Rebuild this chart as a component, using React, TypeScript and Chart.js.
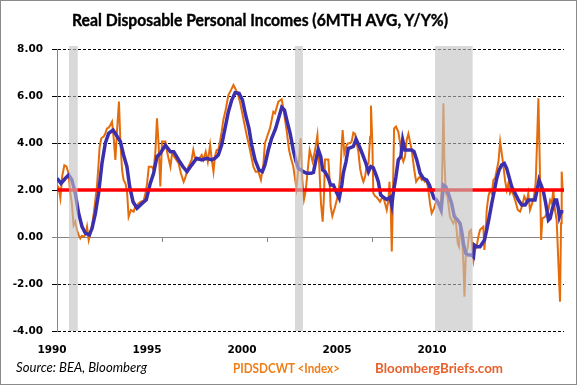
import React, { useEffect, useLayoutEffect, useRef } from "react";
import { Chart, registerables } from "chart.js";

Chart.register(...registerables);

// ---------- data ----------
const orangeSeries: [number, number][] = [
  [1990.00, 2.2],[1990.08, 2.1],[1990.16, 1.65],[1990.25, 2.6],[1990.35, 3.05],[1990.45, 3.0],[1990.55, 2.7],[1990.63, 1.9],[1990.71, 1.4],[1990.79, 0.5],[1990.87, 0.65],[1990.95, 0.3],
  [1991.03, 0.09],[1991.11, -0.06],[1991.19, 0.05],[1991.27, 0.01],[1991.35, 0.1],[1991.43, 0.44],[1991.51, -0.13],[1991.59, 0.16],[1991.67, 0.5],[1991.75, 1.01],[1991.83, 1.6],[1991.90, 2.14],[1991.97, 3.0],
  [1992.03, 3.84],[1992.11, 4.2],[1992.22, 4.27],[1992.30, 4.4],[1992.38, 4.62],[1992.46, 4.65],[1992.54, 4.77],[1992.62, 4.91],[1992.70, 4.2],[1992.78, 3.28],[1992.86, 4.55],[1992.95, 5.76],
  [1993.02, 3.99],[1993.10, 2.85],[1993.17, 2.43],[1993.25, 2.3],[1993.33, 2.0],[1993.41, 0.86],[1993.52, 1.15],[1993.65, 1.08],[1993.73, 1.3],[1993.81, 1.36],[1993.97, 1.5],
  [1994.13, 1.55],[1994.21, 1.86],[1994.29, 2.28],[1994.37, 2.99],[1994.52, 2.99],[1994.60, 2.85],[1994.68, 3.56],[1994.76, 5.05],[1994.84, 3.9],[1994.92, 2.15],
  [1995.00, 4.06],[1995.16, 4.06],[1995.24, 3.63],[1995.40, 2.99],[1995.48, 3.56],[1995.63, 3.35],[1995.79, 3.13],[1995.90, 2.71],
  [1996.03, 2.35],[1996.10, 2.5],[1996.25, 2.99],[1996.41, 3.28],[1996.49, 3.70],[1996.57, 3.35],[1996.73, 3.28],[1996.89, 3.49],[1996.97, 3.28],
  [1997.08, 3.63],[1997.18, 3.2],[1997.29, 3.91],[1997.37, 3.28],[1997.45, 2.78],[1997.52, 3.42],[1997.60, 3.70],[1997.68, 3.70],[1997.76, 4.06],[1997.84, 4.48],[1997.92, 4.98],
  [1998.03, 5.4],[1998.16, 6.04],[1998.29, 6.26],[1998.40, 6.47],[1998.48, 6.33],[1998.60, 6.11],[1998.71, 5.76],[1998.87, 5.05],
  [1999.03, 4.34],[1999.19, 3.70],[1999.35, 2.99],[1999.46, 2.78],[1999.59, 2.78],[1999.71, 2.43],[1999.83, 3.13],[1999.90, 3.99],
  [2000.03, 4.34],[2000.14, 4.62],[2000.30, 5.33],[2000.38, 5.26],[2000.54, 5.76],[2000.70, 5.86],[2000.78, 5.47],[2000.94, 4.48],
  [2001.05, 3.70],[2001.14, 3.35],[2001.25, 3.0],[2001.40, 2.07],[2001.50, 3.0],[2001.60, 4.2],[2001.68, 2.43],[2001.76, 1.6],[2001.84, 1.95],[2001.94, 2.85],
  [2002.03, 3.70],[2002.17, 3.21],[2002.29, 3.70],[2002.40, 4.34],[2002.49, 2.99],[2002.57, 1.43],[2002.65, 0.65],[2002.71, 1.72],[2002.76, 3.3],[2002.92, 3.3],[2002.97, 2.57],
  [2003.03, 1.29],[2003.11, 0.89],[2003.24, 1.29],[2003.40, 1.86],[2003.48, 2.57],[2003.56, 3.99],[2003.60, 4.55],[2003.68, 3.56],[2003.79, 3.91],[2003.87, 3.99],[2003.95, 3.99],
  [2004.03, 4.06],[2004.11, 4.44],[2004.19, 4.39],[2004.27, 3.99],[2004.35, 3.63],[2004.43, 2.92],[2004.51, 2.57],[2004.59, 2.35],[2004.67, 2.57],[2004.75, 3.06],[2004.83, 3.13],[2004.91, 4.27],[2004.95, 5.59],
  [2005.02, 3.85],[2005.06, 1.86],[2005.14, 1.74],[2005.22, 1.69],[2005.30, 1.6],[2005.38, 1.5],[2005.46, 1.64],[2005.54, 1.69],[2005.62, 1.43],[2005.70, 1.15],[2005.78, 1.57],[2005.83, 2.35],[2005.89, 1.29],[2005.94, -0.62],[2005.98, 1.01],
  [2006.05, 4.62],[2006.14, 4.7],[2006.25, 4.48],[2006.33, 4.05],[2006.41, 3.42],[2006.49, 3.21],[2006.57, 3.42],[2006.65, 4.13],[2006.73, 4.39],[2006.81, 4.04],[2006.89, 3.70],
  [2007.00, 2.92],[2007.10, 2.35],[2007.21, 2.5],[2007.29, 2.57],[2007.37, 2.42],[2007.44, 2.45],[2007.52, 2.35],[2007.60, 2.42],[2007.68, 2.0],[2007.76, 1.43],[2007.84, 1.01],[2007.95, 1.22],
  [2008.00, 1.36],[2008.08, 1.57],[2008.16, 1.5],[2008.24, 1.22],[2008.32, 2.0],[2008.37, 4.13],[2008.40, 5.69],[2008.44, 3.42],[2008.51, 1.86],[2008.59, 1.72],[2008.63, 1.43],[2008.71, 0.86],[2008.79, 0.72],[2008.87, 0.58],[2008.98, 0.79],
  [2009.08, -0.27],[2009.14, -0.41],[2009.19, 0.3],[2009.27, 0.23],[2009.35, -1.12],[2009.40, -2.54],[2009.46, -0.84],[2009.56, -0.41],[2009.63, 0.23],[2009.71, 0.3],[2009.78, -0.55],[2009.83, -0.98],[2009.90, -0.55],[2009.98, -0.41],
  [2010.06, 0.01],[2010.14, 0.3],[2010.22, 0.37],[2010.30, 0.44],[2010.35, -0.55],[2010.41, 0.16],[2010.46, 1.15],[2010.54, 1.72],[2010.62, 2.0],[2010.70, 1.86],[2010.78, 2.43],[2010.86, 2.5],[2010.94, 2.85],
  [2011.02, 3.21],[2011.10, 4.06],[2011.17, 3.6],[2011.25, 3.06],[2011.33, 2.43],[2011.41, 2.0],[2011.49, 2.28],[2011.57, 1.86],[2011.65, 2.0],[2011.81, 1.57],[2011.94, 1.15],
  [2012.05, 1.08],[2012.16, 1.36],[2012.25, 1.72],[2012.37, 1.5],[2012.44, 1.86],[2012.52, 1.15],[2012.60, 1.36],[2012.71, 1.72],[2012.79, 2.28],[2012.86, 4.13],[2012.92, 5.9],[2012.98, 3.42],
  [2013.05, -0.13],[2013.11, 0.79],[2013.24, 0.86],[2013.40, 1.15],[2013.48, 1.57],[2013.56, 1.43],[2013.63, 2.0],[2013.71, 1.15],[2013.79, 0.72],[2013.90, -1.69],[2013.95, -2.75],
  [2014.00, 0.58],[2014.03, 2.78],[2014.08, 1.9],
];

const blueSeries: [number, number][] = [
  [1990.00, 2.5],[1990.19, 2.28],[1990.40, 2.5],[1990.56, 2.64],[1990.71, 2.43],[1990.87, 1.86],[1991.03, 1.01],[1991.19, 0.44],[1991.35, 0.16],[1991.54, 0.09],[1991.67, 0.37],[1991.83, 1.01],[1991.98, 1.86],
  [1992.14, 3.13],[1992.30, 3.99],[1992.46, 4.41],[1992.67, 4.55],[1992.83, 4.33],[1993.02, 4.06],[1993.17, 3.49],[1993.33, 2.99],[1993.46, 2.14],[1993.62, 1.5],[1993.81, 1.22],
  [1994.05, 1.43],[1994.25, 1.58],[1994.44, 2.28],[1994.60, 2.71],[1994.76, 3.42],[1994.92, 3.56],[1995.16, 3.91],[1995.40, 3.63],[1995.56, 3.63],[1995.79, 3.28],
  [1996.00, 2.99],[1996.19, 2.78],[1996.41, 3.06],[1996.65, 3.35],[1996.89, 3.28],[1997.13, 3.35],[1997.37, 3.28],[1997.52, 3.35],[1997.68, 3.49],[1997.84, 3.91],
  [1998.00, 4.62],[1998.16, 5.33],[1998.32, 5.83],[1998.48, 6.14],[1998.67, 6.11],[1998.83, 5.83],[1998.98, 5.19],[1999.14, 4.62],[1999.27, 3.91],[1999.43, 3.28],[1999.62, 2.85],[1999.78, 2.78],[1999.90, 3.06],
  [2000.06, 3.70],[2000.22, 4.2],[2000.41, 4.62],[2000.57, 5.12],[2000.70, 5.52],[2000.83, 5.40],[2000.94, 4.98],[2001.10, 4.41],[2001.25, 3.70],[2001.38, 3.21],[2001.49, 2.92],[2001.62, 2.85],[2001.73, 2.78],[2001.89, 2.71],
  [2002.10, 2.71],[2002.21, 2.75],[2002.33, 3.28],[2002.44, 3.73],[2002.56, 3.42],[2002.65, 2.85],[2002.76, 2.78],[2002.92, 2.5],[2003.03, 2.21],[2003.16, 2.21],[2003.29, 1.93],[2003.44, 1.65],[2003.56, 2.21],[2003.63, 2.71],[2003.76, 3.21],[2003.87, 3.77],[2003.98, 3.8],
  [2004.11, 3.85],[2004.24, 4.16],[2004.40, 3.85],[2004.56, 3.49],[2004.71, 3.13],[2004.83, 2.78],[2004.94, 3.0],[2005.06, 2.95],[2005.19, 2.64],[2005.30, 2.35],[2005.41, 1.79],[2005.54, 1.69],[2005.70, 1.6],[2005.86, 1.69],[2005.94, 1.36],
  [2006.02, 1.93],[2006.14, 2.57],[2006.25, 3.28],[2006.37, 3.42],[2006.46, 4.13],[2006.57, 3.70],[2006.73, 3.70],[2006.89, 3.70],[2007.00, 3.63],[2007.13, 3.28],[2007.29, 2.71],[2007.44, 2.5],[2007.60, 2.42],[2007.73, 2.21],[2007.84, 1.93],[2007.95, 1.65],
  [2008.05, 1.6],[2008.16, 1.43],[2008.29, 1.15],[2008.40, 2.21],[2008.51, 2.14],[2008.63, 1.86],[2008.79, 1.43],[2008.92, 0.86],[2009.08, 0.72],[2009.19, 0.58],[2009.27, 0.23],[2009.35, -0.27],[2009.46, -0.7],[2009.59, -0.77],[2009.75, -0.77],[2009.83, -0.84],[2009.87, -0.34],[2009.98, -0.41],
  [2010.14, -0.41],[2010.25, -0.27],[2010.35, -0.13],[2010.46, 0.3],[2010.57, 0.79],[2010.70, 1.43],[2010.83, 2.0],[2010.94, 2.5],[2011.05, 2.85],[2011.17, 3.06],[2011.30, 3.13],[2011.41, 2.92],[2011.52, 2.57],[2011.65, 2.14],[2011.81, 1.86],[2011.97, 1.57],
  [2012.13, 1.36],[2012.29, 1.36],[2012.44, 1.57],[2012.60, 1.57],[2012.76, 1.57],[2012.86, 2.0],[2012.95, 2.43],[2013.05, 2.21],[2013.16, 1.93],[2013.27, 1.43],[2013.40, 0.72],[2013.48, 0.79],[2013.59, 1.22],[2013.71, 1.57],[2013.79, 1.57],[2013.87, 1.22],[2013.92, 0.86],[2014.00, 1.07],[2014.11, 1.07],
];

const referenceLevel = 2;
const recessionStarts = [1990.57, 2001.33, 2008.0];
const recessionEnds = [1990.99, 2001.71, 2009.79];
const yTicks = [-4, -2, 0, 2, 4, 6, 8];
const xTickYears = [1995, 2000, 2005, 2010];
const xLabelYears = [1990, 1995, 2000, 2005, 2010];
const X_MIN = 1990;
const X_MAX = 2014.14;
// Excel places the year labels on a slightly different spacing than the ticks
const LABEL_MIN = 1990.263;
const LABEL_MAX = 2016.947;

const ORANGE = "#E46C0A";
const BLUE = "#3B2FAE";
const RED = "#FF0000";

function FitText(props: { text: string; left: number; top: number; width: number; style: React.CSSProperties }) {
  const ref = useRef<HTMLSpanElement>(null);
  useLayoutEffect(() => {
    const el = ref.current;
    if (!el) return;
    el.style.transform = "none";
    const w = el.getBoundingClientRect().width;
    if (w > 0) el.style.transform = `scaleX(${props.width / w})`;
  }, [props.text, props.width]);
  return (
    <span
      ref={ref}
      style={{
        position: "absolute",
        left: props.left,
        top: props.top,
        whiteSpace: "nowrap",
        transformOrigin: "0 0",
        lineHeight: 1.2,
        ...props.style,
      }}
    >
      {props.text}
    </span>
  );
}

export default function App() {
  const canvasRef = useRef<HTMLCanvasElement>(null);

  useEffect(() => {
    const canvas = canvasRef.current;
    if (!canvas) return;

    const overlay = {
      id: "overlay",
      afterDatasetsDraw(chart: any) {
        const { ctx, chartArea, scales } = chart;
        const x = scales.x;
        const y = scales.y;
        const y0 = Math.round(y.getPixelForValue(0));
        ctx.save();
        ctx.strokeStyle = "#868686";
        ctx.lineWidth = 1;
        for (const yr of xTickYears) {
          const px = Math.round(x.getPixelForValue(yr)) + 0.5;
          ctx.beginPath();
          ctx.moveTo(px, y0);
          ctx.lineTo(px, y0 + 5);
          ctx.stroke();
        }
        ctx.fillStyle = "rgba(194,194,194,0.62)";
        for (let i = 0; i < recessionStarts.length; i++) {
          const a = x.getPixelForValue(recessionStarts[i]);
          const b = x.getPixelForValue(recessionEnds[i]);
          ctx.fillRect(a, chartArea.top - 3, b - a, chartArea.bottom - chartArea.top + 3);
        }
        ctx.restore();
      },
    };

    const tickFont = { family: "'DejaVu Sans', sans-serif", weight: "bold" as const, size: 10.5 };

    const chart = new Chart(canvas, {
      type: "line",
      data: {
        datasets: [
          {
            label: "PIDSDCWT Y/Y%",
            data: orangeSeries.map(([x, y]) => ({ x, y })),
            borderColor: ORANGE,
            borderWidth: 2,
            pointRadius: 0,
            tension: 0,
            order: 3,
          },
          {
            label: "6MTH AVG",
            data: blueSeries.map(([x, y]) => ({ x, y })),
            borderColor: BLUE,
            borderWidth: 3.5,
            pointRadius: 0,
            tension: 0,
            order: 2,
          },
          {
            label: "2%",
            data: [
              { x: X_MIN, y: referenceLevel },
              { x: X_MAX, y: referenceLevel },
            ],
            borderColor: RED,
            borderWidth: 3.5,
            pointRadius: 0,
            order: 1,
          },
        ],
      },
      options: {
        animation: false,
        responsive: false,
        devicePixelRatio: 1,
        layout: { padding: { top: 49, right: 13, left: 0, bottom: 0 } },
        plugins: { legend: { display: false }, tooltip: { enabled: false }, title: { display: false } },
        scales: {
          x: { type: "linear", display: false, min: X_MIN, max: X_MAX },
          xl: {
            type: "linear",
            position: "bottom",
            bounds: "data",
            min: LABEL_MIN,
            max: LABEL_MAX,
            afterBuildTicks: (s: any) => {
              s.ticks = xLabelYears.map((v) => ({ value: v }));
            },
            afterFit: (s: any) => {
              s.height = 54;
            },
            ticks: {
              autoSkip: false,
              maxRotation: 0,
              padding: 13,
              color: "#000",
              font: tickFont,
              callback: (v: any) => String(v),
            },
            grid: { display: false, drawTicks: false },
            border: { display: false },
          },
          y: {
            type: "linear",
            min: -4,
            max: 8,
            afterBuildTicks: (s: any) => {
              s.ticks = yTicks.map((v) => ({ value: v }));
            },
            afterFit: (s: any) => {
              s.width = 57;
            },
            ticks: {
              padding: 9,
              color: "#000",
              font: tickFont,
              callback: (v: any) => Number(v).toFixed(2),
            },
            grid: {
              color: (c: any) => (c.tick && c.tick.value === 0 ? "#868686" : "#000"),
              lineWidth: 1,
              tickLength: 5,
            },
            border: {
              color: "#868686",
              width: 1,
              dash: (c: any) => (c.tick && c.tick.value !== 0 ? [3, 2] : []),
            },
          },
        },
      },
      plugins: [overlay],
    } as any);

    return () => chart.destroy();
  }, []);

  return (
    <div style={{ position: "absolute", left: 0, top: 0, width: 577, height: 385, background: "#fff", overflow: "hidden" }}>
      <canvas ref={canvasRef} width={577} height={385} style={{ position: "absolute", left: 0, top: 0 }} />
      <FitText
        text="Real Disposable Personal Incomes (6MTH AVG, Y/Y%)"
        left={72}
        top={9}
        width={376}
        style={{ fontFamily: "Lato, sans-serif", fontWeight: 700, fontSize: 17.5, color: "#000", WebkitTextStroke: "0.4px #000" }}
      />
      <FitText
        text="Source: BEA, Bloomberg"
        left={16}
        top={360}
        width={131}
        style={{ fontFamily: "Lato, sans-serif", fontStyle: "italic", fontSize: 12.5, color: "#000" }}
      />
      <FitText
        text="PIDSDCWT <Index>"
        left={233}
        top={361}
        width={107}
        style={{ fontFamily: "Lato, sans-serif", fontWeight: 700, fontSize: 12.5, color: "#F07D16" }}
      />
      <FitText
        text="BloombergBriefs.com"
        left={375}
        top={361}
        width={128}
        style={{ fontFamily: "Lato, sans-serif", fontWeight: 700, fontSize: 12.5, color: "#E8602C" }}
      />
      <div
        style={{
          position: "absolute",
          left: 0,
          top: 0,
          width: 577,
          height: 385,
          boxSizing: "border-box",
          border: "1px solid #8a8a8a",
          pointerEvents: "none",
        }}
      />
    </div>
  );
}
